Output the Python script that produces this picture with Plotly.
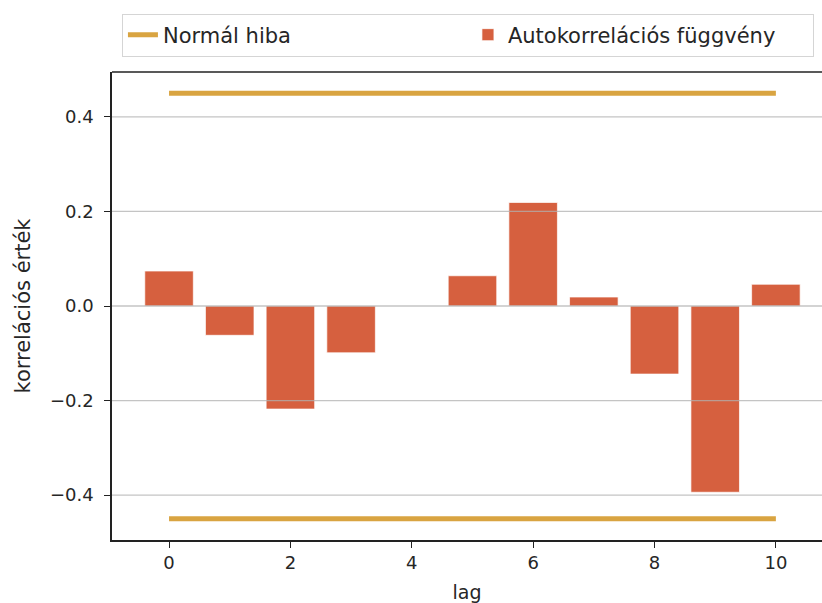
import plotly.graph_objects as go

# Autocorrelation values per lag
lags = list(range(11))
acf_values = [0.074, -0.062, -0.218, -0.099, 0.0, 0.064, 0.219, 0.019, -0.144, -0.394, 0.046]

# Normal error band
error_bound = 0.45
band_x = [0, 10]

y_ticks = [-0.4, -0.2, 0.0, 0.2, 0.4]
x_ticks = [0, 2, 4, 6, 8, 10]

BAR_COLOR = "#d6603f"
LINE_COLOR = "#d9a441"
FONT = "DejaVu Sans, Verdana, sans-serif"

fig = go.Figure()

fig.add_trace(go.Scatter(
    x=band_x, y=[error_bound, error_bound], mode="lines",
    line=dict(color=LINE_COLOR, width=5),
    name="Normál hiba", legendgroup="err",
))
fig.add_trace(go.Scatter(
    x=band_x, y=[-error_bound, -error_bound], mode="lines",
    line=dict(color=LINE_COLOR, width=5),
    name="Normál hiba", legendgroup="err", showlegend=False,
))
fig.add_trace(go.Bar(
    x=lags, y=acf_values, width=0.8,
    marker=dict(color=BAR_COLOR, line=dict(color="rgba(255,255,255,0.7)", width=1)),
    name="Autokorrelációs függvény",
))

# horizontal grid drawn over the bars
for v in y_ticks:
    fig.add_shape(type="line", xref="paper", x0=0, x1=1, yref="y", y0=v, y1=v,
                  line=dict(color="rgba(176,176,176,0.75)", width=1.3), layer="above")

# top spine
fig.add_shape(type="line", xref="paper", yref="paper", x0=0, x1=1, y0=1, y1=1,
              line=dict(color="#222222", width=1.5), layer="above")

fig.update_layout(
    width=822, height=603,
    margin=dict(l=112, r=0, t=72, b=63),
    paper_bgcolor="white", plot_bgcolor="white",
    font=dict(family=FONT, size=18, color="#262626"),
    bargap=0.2,
    showlegend=True,
    legend=dict(
        orientation="h", x=0.014, xanchor="left", y=1.125, yanchor="top",
        entrywidth=300, entrywidthmode="pixels",
        bordercolor="#d5d5d5", borderwidth=1, bgcolor="white",
        font=dict(size=21, family=FONT, color="#262626"),
        traceorder="normal",
    ),
    xaxis=dict(
        range=[-0.94, 10.76], tickvals=x_ticks, showgrid=False, zeroline=False,
        showline=True, linecolor="#222222", linewidth=1.5, mirror=False,
        ticks="outside", ticklen=6, tickcolor="#222222", tickwidth=1.3,
        title=dict(text="lag", standoff=14, font=dict(size=19)),
        automargin=False,
    ),
    yaxis=dict(
        range=[-0.495, 0.495], tickvals=y_ticks,
        ticktext=["−0.4", "−0.2", "0.0", "0.2", "0.4"],
        showgrid=False, zeroline=False,
        showline=True, linecolor="#222222", linewidth=1.5, mirror=False,
        ticks="outside", ticklen=6, tickcolor="#222222", tickwidth=1.3,
        ticklabelstandoff=7,
        title=dict(text="korrelációs érték", standoff=14, font=dict(size=21)),
        automargin=False,
    ),
)

fig.write_html("out.html")
